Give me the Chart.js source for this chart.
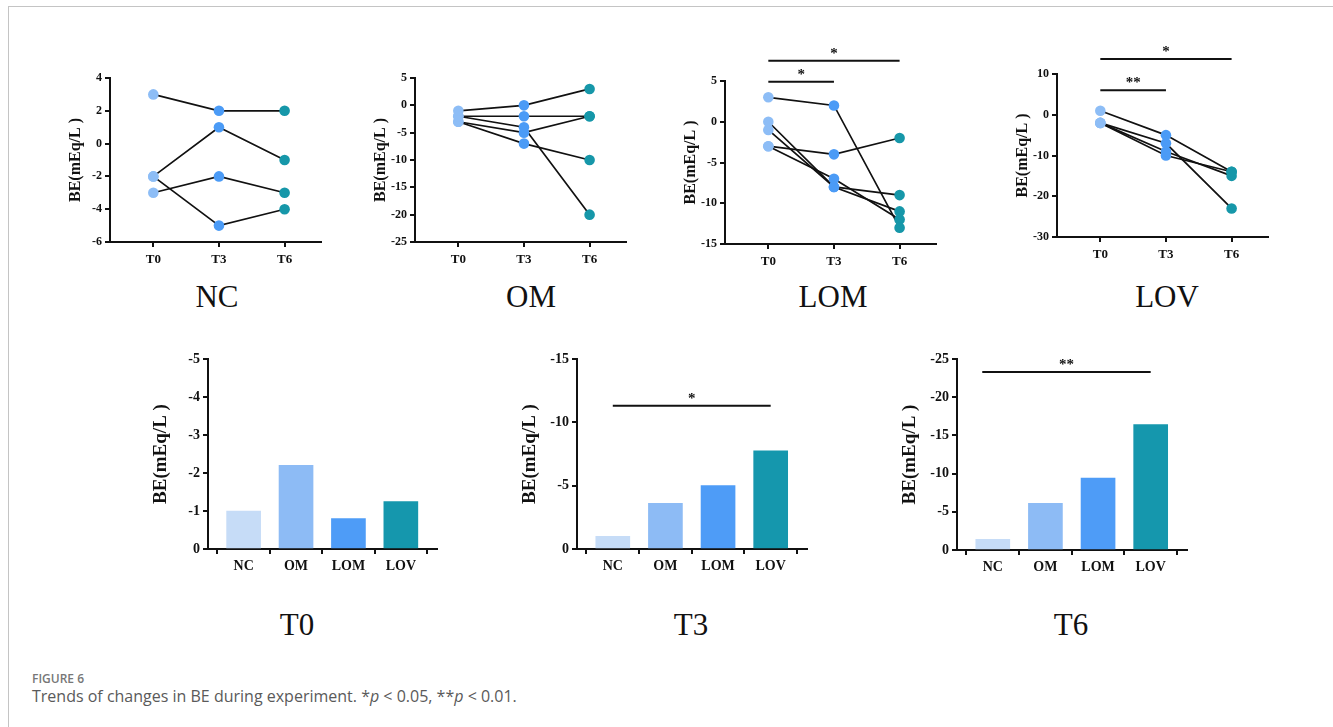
<!DOCTYPE html>
<html><head><meta charset="utf-8">
<script src="https://cdn.jsdelivr.net/npm/chart.js@4.4.0/dist/chart.umd.min.js"></script>
<style>
html,body{margin:0;padding:0;background:#fff;width:1333px;height:727px;overflow:hidden;position:relative;}
#frame{position:absolute;left:8px;top:6px;width:1400px;height:800px;border-top:1.5px solid #c4c4c4;border-left:1.5px solid #c4c4c4;}
canvas{position:absolute;}
.ptitle{position:absolute;font-family:"Liberation Serif","Times New Roman",serif;font-size:31px;color:#111;transform:translate(-50%,-50%);white-space:nowrap;}
#figno{position:absolute;left:32px;top:670px;font-family:"Open Sans",sans-serif;font-size:12px;font-weight:600;color:#777;}
#caption{position:absolute;left:32px;top:685px;font-family:"Open Sans",sans-serif;font-size:16px;color:#5a5a5a;}
</style></head>
<body>
<div id="frame"></div>
<div class="ptitle" style="left:217px;top:297px">NC</div>
<div class="ptitle" style="left:531px;top:297px">OM</div>
<div class="ptitle" style="left:833px;top:297px">LOM</div>
<div class="ptitle" style="left:1167px;top:297px">LOV</div>
<div class="ptitle" style="left:297px;top:625px">T0</div>
<div class="ptitle" style="left:691px;top:625px">T3</div>
<div class="ptitle" style="left:1071px;top:625px">T6</div>
<div id="figno">FIGURE 6</div>
<div id="caption">Trends of changes in BE during experiment. *<i>p</i> &lt; 0.05, **<i>p</i> &lt; 0.01.</div>
<script>
// ---------- data ----------
const timeLabels = ['T0', 'T3', 'T6'];
const groupLabels = ['NC', 'OM', 'LOM', 'LOV'];
// individual subjects: [T0, T3, T6]
const ncSubjects  = [[3, 2, 2], [-2, 1, -1], [-3, -2, -3], [-2, -5, -4]];
const omSubjects  = [[-1, 0, 3], [-2, -2, -2], [-2, -4, -20], [-3, -5, -2], [-3, -7, -10]];
const lomSubjects = [[3, 2, -13], [-3, -4, -2], [0, -8, -9], [-1, -8, -11], [-3, -7, -12]];
const lovSubjects = [[1, -5, -14], [-2, -7, -23], [-2, -9, -15], [-2, -10, -14]];
// group means per time point (NC, OM, LOM, LOV)
const t0Means = [-1, -2.2, -0.8, -1.25];
const t3Means = [-1, -3.6, -5, -7.75];
const t6Means = [-1.4, -6.1, -9.4, -16.4];
// significance brackets
const lomSig = [{from: 0, to: 1, y: 4.9, label: '*'}, {from: 0, to: 2, y: 7.5, label: '*'}];
const lovSig = [{from: 0, to: 1, y: 6, label: '**'}, {from: 0, to: 2, y: 13.7, label: '*'}];
const t3Sig = [{from: 0, to: 3, y: -11.3, label: '*'}];
const t6Sig = [{from: -0.2, to: 3, y: -23.3, label: '**'}];

// ---------- styles ----------
const timeColors = ['#8dbdf6', '#4b9bf6', '#1697a9'];
const barColors = ['#c6dcf7', '#8dbbf5', '#4e9cf7', '#1597ad'];
const SERIF = '"Liberation Serif","Times New Roman",serif';
const INK = '#111';

const sigPlugin = {
  id: 'sig',
  afterDraw(chart, args, opts) {
    const items = opts.items || [];
    const ctx = chart.ctx, xs = chart.scales.x, ys = chart.scales.y;
    items.forEach(it => {
      const x1 = xs.getPixelForValue(it.from), x2 = xs.getPixelForValue(it.to), y = ys.getPixelForValue(it.y);
      ctx.save();
      ctx.strokeStyle = INK; ctx.lineWidth = 2;
      ctx.beginPath(); ctx.moveTo(x1, y); ctx.lineTo(x2, y); ctx.stroke();
      ctx.fillStyle = INK; ctx.font = 'bold 15px ' + SERIF;
      ctx.textAlign = 'center'; ctx.textBaseline = 'alphabetic';
      ctx.fillText(it.label, (x1 + x2) / 2, y - 3);
      ctx.restore();
    });
  }
};

function axisGrid() {
  return {drawOnChartArea: false, drawTicks: true, tickLength: 5, color: INK, lineWidth: 2};
}

function makeCanvas(area, yW, padL, padT, xH, padB, padR) {
  const cv = document.createElement('canvas');
  const W = padL + yW + area.w + padR, H = padT + area.h + xH + padB;
  cv.width = W; cv.height = H;
  cv.style.left = (area.x - yW - padL) + 'px';
  cv.style.top = (area.y - padT) + 'px';
  cv.style.width = W + 'px'; cv.style.height = H + 'px';
  document.body.appendChild(cv);
  return cv;
}

function topPanel(subjects, yMin, yMax, yStep, sig, area) {
  const yW = 44, padL = 2, padT = 40, xH = 30, padB = 2, padR = 4;
  const cv = makeCanvas(area, yW, padL, padT, xH, padB, padR);
  const datasets = [];
  subjects.forEach(s => datasets.push({
    data: s.map((v, i) => ({x: i, y: v})), showLine: false, pointRadius: 5.3,
    pointBackgroundColor: timeColors, pointBorderWidth: 0, pointHoverRadius: 5.3, order: 0
  }));
  subjects.forEach(s => datasets.push({
    data: s.map((v, i) => ({x: i, y: v})), showLine: true, borderColor: INK, borderWidth: 1.7,
    pointRadius: 0, pointHoverRadius: 0, order: 1
  }));
  new Chart(cv, {
    type: 'scatter',
    data: {datasets},
    plugins: [sigPlugin],
    options: {
      responsive: false, animation: false, devicePixelRatio: 1,
      layout: {padding: {left: padL, top: padT, right: padR, bottom: padB}},
      plugins: {legend: {display: false}, tooltip: {enabled: false}, sig: {items: sig}},
      scales: {
        x: {
          type: 'linear', min: -0.66, max: 2.55,
          afterFit: s => { s.height = xH; },
          afterBuildTicks: s => { s.ticks = timeLabels.map((t, i) => ({value: i})); },
          ticks: {callback: v => timeLabels[v], font: {family: SERIF, weight: 'bold', size: 13}, color: INK, padding: 5, maxRotation: 0, autoSkip: false},
          grid: axisGrid(), border: {color: INK, width: 2}
        },
        y: {
          min: yMin, max: yMax,
          afterFit: s => { s.width = yW; },
          ticks: {stepSize: yStep, callback: v => String(v), font: {family: SERIF, weight: 'bold', size: 12}, color: INK, padding: 3},
          grid: axisGrid(), border: {color: INK, width: 2},
          title: {display: true, text: 'BE(mEq/L )', font: {family: SERIF, weight: 'bold', size: 16}, color: INK, padding: {top: 0, bottom: 2}}
        }
      }
    }
  });
}

function barPanel(means, yMin, yStep, sig, area) {
  const yW = 58, padL = 2, padT = 24, xH = 32, padB = 2, padR = 4;
  const cv = makeCanvas(area, yW, padL, padT, xH, padB, padR);
  new Chart(cv, {
    type: 'bar',
    data: {datasets: [{data: means.map((v, i) => ({x: i, y: v})), backgroundColor: barColors, barThickness: 34, borderWidth: 0}]},
    plugins: [sigPlugin],
    options: {
      responsive: false, animation: false, devicePixelRatio: 1,
      layout: {padding: {left: padL, top: padT, right: padR, bottom: padB}},
      plugins: {legend: {display: false}, tooltip: {enabled: false}, sig: {items: sig}},
      scales: {
        x: {
          type: 'linear', min: -0.68, max: 3.69, offset: false,
          afterFit: s => { s.height = xH; },
          afterBuildTicks: s => { s.ticks = groupLabels.map((g, i) => ({value: i})); },
          ticks: {callback: v => groupLabels[v], font: {family: SERIF, weight: 'bold', size: 14}, color: INK, padding: 4, maxRotation: 0, autoSkip: false},
          grid: axisGrid(), border: {color: INK, width: 2}
        },
        y: {
          reverse: true, min: yMin, max: 0,
          afterFit: s => { s.width = yW; },
          ticks: {stepSize: yStep, callback: v => String(v), font: {family: SERIF, weight: 'bold', size: 14}, color: INK, padding: 3},
          grid: axisGrid(), border: {color: INK, width: 2},
          title: {display: true, text: 'BE(mEq/L )', font: {family: SERIF, weight: 'bold', size: 19}, color: INK, padding: {top: 0, bottom: 2}}
        }
      }
    }
  });
}

topPanel(ncSubjects, -6, 4, 2, [], {x: 110, y: 78, w: 212, h: 164});
topPanel(omSubjects, -25, 5, 5, [], {x: 415, y: 78, w: 212, h: 164});
topPanel(lomSubjects, -15, 5, 5, lomSig, {x: 725, y: 80.5, w: 212, h: 163});
topPanel(lovSubjects, -30, 10, 10, lovSig, {x: 1057, y: 73.5, w: 212, h: 163});

barPanel(t0Means, -5, 1, [], {x: 208, y: 359, w: 229, h: 190});
barPanel(t3Means, -15, 5, t3Sig, {x: 577, y: 359, w: 230, h: 190});
barPanel(t6Means, -25, 5, t6Sig, {x: 957, y: 359, w: 230, h: 191});
</script>
</body></html>
